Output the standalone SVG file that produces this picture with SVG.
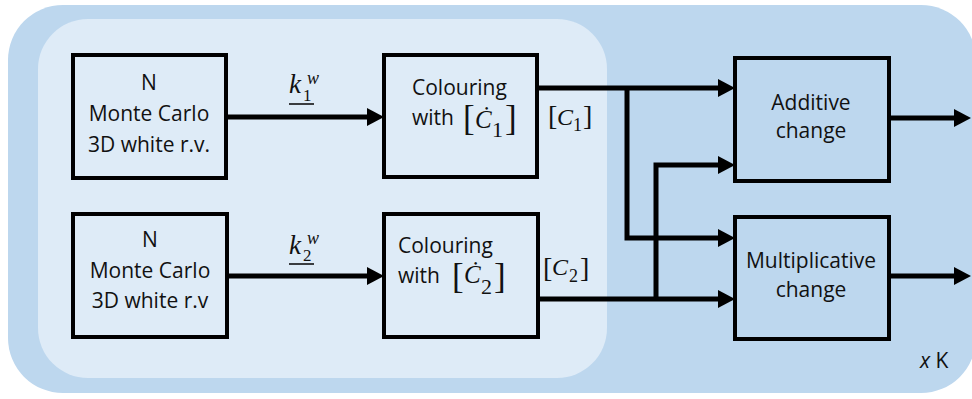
<svg xmlns="http://www.w3.org/2000/svg" width="972" height="399" viewBox="0 0 972 399">
<style>
.box{stroke:#000;stroke-width:4}
.inbox{fill:#DEEBF7}
.outbox{fill:#BDD7EE}
.t{font-family:"Open Sans","Noto Sans","Liberation Sans",sans-serif;font-size:21px;fill:#111;text-anchor:middle}
.s{text-anchor:start}
.m{font-family:"Liberation Serif",serif;fill:#111}
.i{font-style:italic}
.c{fill:none;stroke:#000;stroke-width:5;stroke-linejoin:miter}
</style>
<defs>
<marker id="ah" viewBox="0 0 17 18" refX="0" refY="9" markerWidth="17" markerHeight="18" markerUnits="userSpaceOnUse" orient="auto">
<path d="M0,0 L17,9 L0,18 Z" fill="#000"/>
</marker>
</defs>
<rect x="8" y="5" width="968" height="388" rx="55" fill="#BDD7EE"/>
<rect x="38" y="19" width="569" height="359" rx="50" fill="#DEEBF7"/>

<g id="mc1">
<rect class="box inbox" x="73" y="55" width="153" height="123"/>
<text class="t" x="149" y="90">N</text>
<text class="t" x="149" y="121">Monte Carlo</text>
<text class="t" x="149" y="152">3D white r.v.</text>
</g>
<g id="mc2">
<rect class="box inbox" x="73" y="214" width="154" height="123"/>
<text class="t" x="150" y="247">N</text>
<text class="t" x="150" y="278">Monte Carlo</text>
<text class="t" x="150" y="308">3D white r.v</text>
</g>
<g id="col1">
<rect class="box inbox" x="384" y="55" width="153" height="122"/>
<text class="t s" x="412" y="95">Colouring</text>
<text class="t s" x="412" y="125">with</text>
<text class="m" x="463" y="130" font-size="35">[</text>
<text class="m i" x="475" y="128" font-size="25">Ċ</text>
<text class="m" x="492" y="137" font-size="22">1</text>
<text class="m" x="505" y="130" font-size="35">]</text>
</g>
<g id="col2">
<rect class="box inbox" x="384" y="214" width="154" height="123"/>
<text class="t s" x="398" y="253">Colouring</text>
<text class="t s" x="398" y="283">with</text>
<text class="m" x="452" y="288" font-size="35">[</text>
<text class="m i" x="464" y="283" font-size="25">Ċ</text>
<text class="m" x="481" y="294" font-size="22">2</text>
<text class="m" x="494" y="288" font-size="35">]</text>
</g>
<g id="add">
<rect class="box outbox" x="735" y="58" width="154" height="123"/>
<text class="t" x="811" y="110">Additive</text>
<text class="t" x="811" y="138">change</text>
</g>
<g id="mult">
<rect class="box outbox" x="735" y="217" width="154" height="122"/>
<text class="t" x="811" y="268">Multiplicative</text>
<text class="t" x="811" y="297">change</text>
</g>

<g id="labels">
<text class="m i" x="289" y="93" font-size="27">k</text>
<line x1="289" y1="104" x2="314" y2="104" stroke="#111" stroke-width="1.6"/>
<text class="m" x="303" y="101" font-size="17">1</text>
<text class="m i" x="307" y="84" font-size="18">w</text>
<text class="m i" x="289" y="254" font-size="27">k</text>
<line x1="289" y1="264" x2="314" y2="264" stroke="#111" stroke-width="1.6"/>
<text class="m" x="303" y="261" font-size="17">2</text>
<text class="m i" x="307" y="244" font-size="18">w</text>
<text class="m" x="548" y="125" font-size="28">[</text>
<text class="m i" x="557" y="125" font-size="24">C</text>
<text class="m" x="573" y="131" font-size="18">1</text>
<text class="m" x="583" y="125" font-size="28">]</text>
<text class="m" x="543" y="277" font-size="28">[</text>
<text class="m i" x="552" y="275" font-size="24">C</text>
<text class="m" x="569" y="282" font-size="18">2</text>
<text class="m" x="580" y="277" font-size="28">]</text>
<text x="920" y="368" font-family="'Open Sans','Noto Sans','Liberation Sans',sans-serif" font-size="21" fill="#111"><tspan font-style="italic">x</tspan> K</text>
</g>

<g id="connectors">
<path class="c" d="M226,117 H367" marker-end="url(#ah)"/>
<path class="c" d="M227,276 H367" marker-end="url(#ah)"/>
<path class="c" d="M537,88 H718" marker-end="url(#ah)"/>
<path class="c" d="M627,88 V238 H718" marker-end="url(#ah)"/>
<path class="c" d="M538,299 H718" marker-end="url(#ah)"/>
<path class="c" d="M656,299 V165 H718" marker-end="url(#ah)"/>
<path class="c" d="M889,118 H954" marker-end="url(#ah)"/>
<path class="c" d="M889,276 H954" marker-end="url(#ah)"/>
</g>
</svg>
